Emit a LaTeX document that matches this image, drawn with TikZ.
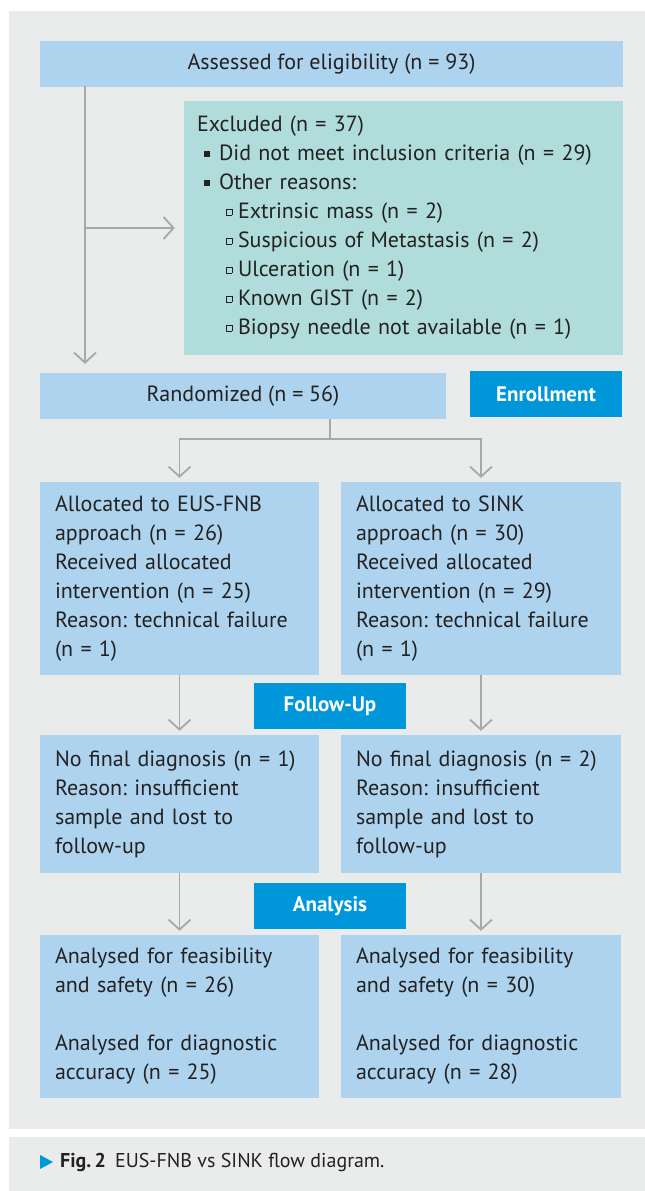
\documentclass[tikz,border=0pt]{standalone}
\usepackage{fontspec}
\setmainfont{PT Sans}
\usetikzlibrary{arrows.meta}
\frenchspacing

\definecolor{panelgrey}{HTML}{EAEBEB}
\definecolor{boxblue}{HTML}{AED3EF}
\definecolor{boxteal}{HTML}{B0DDDB}
\definecolor{tagblue}{HTML}{0096DA}
\definecolor{arrowgrey}{HTML}{A7A8AA}
\definecolor{txt}{HTML}{232221}

\newcommand{\fillsq}{\rule[0.2em]{0.26em}{0.26em}}
\newcommand{\opensq}{{\fboxsep=0pt\fboxrule=0.5pt\raisebox{0.18em}{\fbox{\rule{0pt}{0.24em}\rule{0.24em}{0pt}}}}}

\begin{document}
\begin{tikzpicture}[x=1pt,y=-1pt]
    \tikzstyle{every node}=[font=\fontsize{22}{29}\selectfont, text=txt]
    \tikzstyle{box}=[fill=boxblue, inner sep=0pt, align=left]
    \tikzstyle{tag}=[fill=tagblue, text=white, font=\fontsize{21}{29}\selectfont\bfseries, inner sep=0pt, minimum width=152pt, minimum height=46pt]
    \tikzstyle{line}=[draw=arrowgrey, line width=1.8pt]
    \tikzstyle{arr}=[line, -{Straight Barb[length=10pt,width=22pt]}]
    %% page and panels
    \useasboundingbox (0,0) rectangle (645,1191);
    \fill[white] (0,0) rectangle (645,1191);
    \fill[panelgrey] (9,11) rectangle (645,1129);
    \fill[panelgrey] (9,1137) rectangle (645,1191);
    % Enrollment
    \node at (331.5,64) [box, align=center, minimum width=583pt, minimum height=46pt] (assess) {Assessed for eligibility (n = 93)};
    \node at (403.5,228) [box, fill=boxteal, text width=413pt, minimum width=439pt, minimum height=254pt] (excl)
        {Excluded (n = 37)\\
         \hspace*{7pt}\makebox[15pt][l]{\fillsq}Did not meet inclusion criteria (n = 29)\\
         \hspace*{7pt}\makebox[15pt][l]{\fillsq}Other reasons:\\
         \hspace*{29pt}\makebox[12pt][l]{\opensq}Extrinsic mass (n = 2)\\
         \hspace*{29pt}\makebox[12pt][l]{\opensq}Suspicious of Metastasis (n = 2)\\
         \hspace*{29pt}\makebox[12pt][l]{\opensq}Ulceration (n = 1)\\
         \hspace*{29pt}\makebox[12pt][l]{\opensq}Known GIST (n = 2)\\
         \hspace*{29pt}\makebox[12pt][l]{\opensq}Biopsy needle not available (n = 1)};
    \node at (243,396) [box, align=center, minimum width=406pt, minimum height=46pt] (rand) {Randomized (n = 56)};
    \node at (546,394) [tag] (enroll) {Enrollment};
    % Allocation
    \node at (179.5,578.5) [box, text width=249pt, minimum width=279pt, minimum height=193pt] (allocL)
        {Allocated to EUS-FNB\\ approach (n = 26)\\ Received allocated\\ intervention (n = 25)\\ Reason: technical failure\\ (n = 1)};
    \node at (481,578.5) [box, text width=250pt, minimum width=280pt, minimum height=193pt] (allocR)
        {Allocated to SINK\\ approach (n = 30)\\ Received allocated\\ intervention (n = 29)\\ Reason: technical failure\\ (n = 1)};
    % Follow-Up
    \node at (330,706) [tag] (follow) {Follow-Up};
    \node at (179.5,804) [box, text width=249pt, minimum width=279pt, minimum height=138pt] (nofinL)
        {No final diagnosis (n = 1)\\ Reason: insufficient\\ sample and lost to\\ follow-up};
    \node at (481,804) [box, text width=250pt, minimum width=280pt, minimum height=138pt] (nofinR)
        {No final diagnosis (n = 2)\\ Reason: insufficient\\ sample and lost to\\ follow-up};
    % Analysis
    \node at (330,906) [tag] (analysis) {Analysis};
    \node at (179.5,1016.5) [box, text width=249pt, minimum width=279pt, minimum height=163pt] (finL)
        {Analysed for feasibility\\ and safety (n = 26)\\[29pt] Analysed for diagnostic\\ accuracy (n = 25)};
    \node at (481,1016.5) [box, text width=250pt, minimum width=280pt, minimum height=163pt] (finR)
        {Analysed for feasibility\\ and safety (n = 30)\\[29pt] Analysed for diagnostic\\ accuracy (n = 28)};

    %% connectors
    \coordinate (trunk) at (85,86);
    \coordinate (split) at (330,439);
    \draw[arr] (trunk) -- ([yshift=9pt]trunk |- rand.north);
    \draw[arr] (trunk |- excl.west) -- ([xshift=-9pt]excl.west);
    \draw[line] (split |- rand.south) -- (split);
    \draw[arr, shorten >=4pt] (split) -| (allocL.north);
    \draw[arr, shorten >=4pt] (split) -| (allocR.north);
    \path
    (allocL.south) edge [arr, shorten >=4pt] (nofinL.north)
    (allocR.south) edge [arr, shorten >=4pt] (nofinR.north)
    (nofinL.south) edge [arr, shorten >=4pt] (finL.north)
    (nofinR.south) edge [arr, shorten >=4pt] (finR.north);

    %% caption
    \fill[tagblue] (40,1155) -- (53,1162) -- (40,1169) -- cycle;
    \node at (60,1162) [anchor=west, inner sep=0pt, font=\fontsize{20}{24}\selectfont] (caption)
        {\textbf{Fig.\,2}\hspace{9pt}EUS-FNB vs SINK flow diagram.};
\end{tikzpicture}
\end{document}
